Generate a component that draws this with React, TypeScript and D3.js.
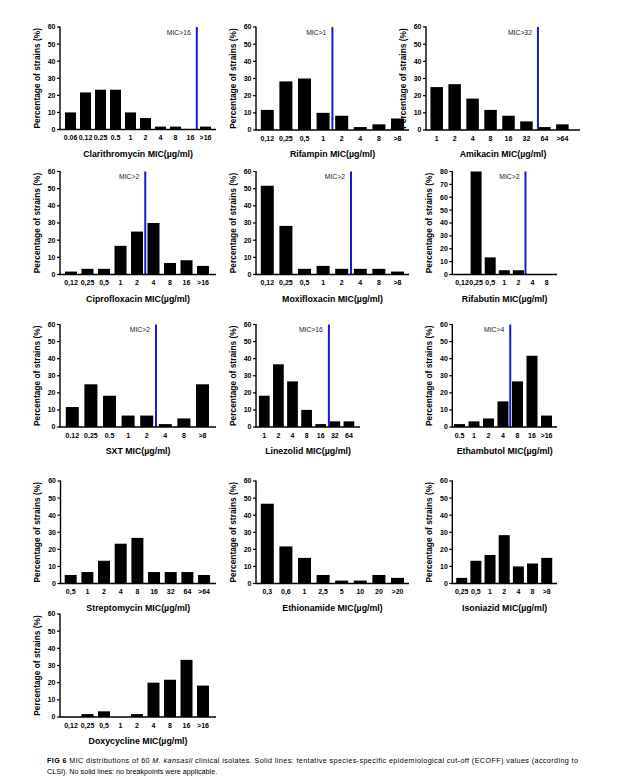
import React from "react";
import * as d3 from "d3";

// ---------- DATA ----------
const clarithromycinCats = ["0.06", "0.12", "0.25", "0.5", "1", "2", "4", "8", "16", ">16"];
const clarithromycinVals = [10, 21.7, 23.3, 23.3, 10, 6.7, 1.7, 1.7, 0, 1.7];

const rifampinCats = ["0,12", "0,25", "0,5", "1", "2", "4", "8", ">8"];
const rifampinVals = [11.7, 28.3, 30, 10, 8.3, 1.7, 3.3, 6.7];

const amikacinCats = ["1", "2", "4", "8", "16", "32", "64", ">64"];
const amikacinVals = [25, 26.7, 18.3, 11.7, 8.3, 5, 1.7, 3.3];

const ciprofloxacinCats = ["0,12", "0,25", "0,5", "1", "2", "4", "8", "16", ">16"];
const ciprofloxacinVals = [1.7, 3.3, 3.3, 16.7, 25, 30, 6.7, 8.3, 5];

const moxifloxacinCats = ["0,12", "0,25", "0,5", "1", "2", "4", "8", ">8"];
const moxifloxacinVals = [51.7, 28.3, 3.3, 5, 3.3, 3.3, 3.3, 1.7];

const rifabutinCats = ["0,12", "0,25", "0,5", "1", "2", "4", "8"];
const rifabutinVals = [0, 80, 13.3, 3.3, 3.3, 0, 0];

const sxtCats = ["0.12", "0.25", "0.5", "1", "2", "4", "8", ">8"];
const sxtVals = [11.7, 25, 18.3, 6.7, 6.7, 1.7, 5, 25];

const linezolidCats = ["1", "2", "4", "8", "16", "32", "64"];
const linezolidVals = [18.3, 36.7, 26.7, 10, 1.7, 3.3, 3.3];

const ethambutolCats = ["0.5", "1", "2", "4", "8", "16", ">16"];
const ethambutolVals = [1.7, 3.3, 5, 15, 26.7, 41.7, 6.7];

const streptomycinCats = ["0,5", "1", "2", "4", "8", "16", "32", "64", ">64"];
const streptomycinVals = [5, 6.7, 13.3, 23.3, 26.7, 6.7, 6.7, 6.7, 5];

const ethionamideCats = ["0,3", "0,6", "1", "2,5", "5", "10", "20", ">20"];
const ethionamideVals = [46.7, 21.7, 15, 5, 1.7, 1.7, 5, 3.3];

const isoniazidCats = ["0,25", "0,5", "1", "2", "4", "8", ">8"];
const isoniazidVals = [3.3, 13.3, 16.7, 28.3, 10, 11.7, 15];

const doxycyclineCats = ["0,12", "0,25", "0,5", "1", "2", "4", "8", "16", ">16"];
const doxycyclineVals = [0, 1.7, 3.3, 0, 1.7, 20, 21.7, 33.3, 18.3];

// drug name, categories, values, y max, breakpoint label, index of category before cut-off line
const panels = [
  { name: "Clarithromycin", cats: clarithromycinCats, vals: clarithromycinVals, yMax: 60, bp: "MIC>16", bpAfter: 8 },
  { name: "Rifampin", cats: rifampinCats, vals: rifampinVals, yMax: 60, bp: "MIC>1", bpAfter: 3 },
  { name: "Amikacin", cats: amikacinCats, vals: amikacinVals, yMax: 60, bp: "MIC>32", bpAfter: 5 },
  { name: "Ciprofloxacin", cats: ciprofloxacinCats, vals: ciprofloxacinVals, yMax: 60, bp: "MIC>2", bpAfter: 4 },
  { name: "Moxifloxacin", cats: moxifloxacinCats, vals: moxifloxacinVals, yMax: 60, bp: "MIC>2", bpAfter: 4 },
  { name: "Rifabutin", cats: rifabutinCats, vals: rifabutinVals, yMax: 80, bp: "MIC>2", bpAfter: 4 },
  { name: "SXT", cats: sxtCats, vals: sxtVals, yMax: 60, bp: "MIC>2", bpAfter: 4 },
  { name: "Linezolid", cats: linezolidCats, vals: linezolidVals, yMax: 60, bp: "MIC>16", bpAfter: 4 },
  { name: "Ethambutol", cats: ethambutolCats, vals: ethambutolVals, yMax: 60, bp: "MIC>4", bpAfter: 3 },
  { name: "Streptomycin", cats: streptomycinCats, vals: streptomycinVals, yMax: 60, bp: null, bpAfter: -1 },
  { name: "Ethionamide", cats: ethionamideCats, vals: ethionamideVals, yMax: 60, bp: null, bpAfter: -1 },
  { name: "Isoniazid", cats: isoniazidCats, vals: isoniazidVals, yMax: 60, bp: null, bpAfter: -1 },
  { name: "Doxycycline", cats: doxycyclineCats, vals: doxycyclineVals, yMax: 60, bp: null, bpAfter: -1 },
];

// ---------- LAYOUT ----------
// left, top, bottom, right of axes; first category centre, step, bar width, cut-off line fraction
const layout = [
  { l: 60, t: 27, b: 129.5, r: 216, first: 70.5, step: 15.0, bw: 11, f: 0.42 },
  { l: 256, t: 27, b: 130, r: 409, first: 267.3, step: 18.6, bw: 13, f: 0.5 },
  { l: 426, t: 27, b: 130, r: 580, first: 436.7, step: 17.95, bw: 12.5, f: 0.64 },
  { l: 60, t: 171.5, b: 274.5, r: 216, first: 71, step: 16.5, bw: 12, f: 0.5 },
  { l: 256, t: 171.5, b: 274.5, r: 409, first: 267.3, step: 18.6, bw: 13, f: 0.5 },
  { l: 452.3, t: 171.5, b: 274.5, r: 557, first: 462, step: 14.1, bw: 11, f: 0.5 },
  { l: 60, t: 324.5, b: 427, r: 216, first: 72.3, step: 18.6, bw: 13, f: 0.5 },
  { l: 256, t: 324.5, b: 427, r: 360, first: 264.3, step: 14.1, bw: 10.7, f: 0.58 },
  { l: 452.3, t: 324.5, b: 427, r: 557, first: 459.5, step: 14.5, bw: 11, f: 0.5 },
  { l: 60.5, t: 481, b: 583.5, r: 216, first: 70.7, step: 16.67, bw: 12, f: 0.5 },
  { l: 256, t: 481, b: 583.5, r: 409, first: 267.3, step: 18.6, bw: 13, f: 0.5 },
  { l: 452.3, t: 481, b: 583.5, r: 557, first: 461.7, step: 14.17, bw: 11, f: 0.5 },
  { l: 60, t: 614, b: 717, r: 216, first: 71, step: 16.5, bw: 12, f: 0.5 },
];

const FONT = "'Liberation Sans', Arial, sans-serif";
const BLUE = "#1a1acc";

function Panel({ p, g }: { p: (typeof panels)[number]; g: (typeof layout)[number] }) {
  const n = p.cats.length;
  const x = d3.scalePoint<string>().domain(p.cats).range([g.first, g.first + g.step * (n - 1)]);
  const y = d3.scaleLinear().domain([0, p.yMax]).range([g.b, g.t]);
  const ticks = d3.range(0, p.yMax + 1, 10);
  const midY = (g.t + g.b) / 2;
  const lineX = p.bpAfter >= 0 ? (x(p.cats[p.bpAfter]) as number) + g.f * g.step : 0;
  return (
    <g>
      {p.vals.map((v, i) =>
        v > 0 ? (
          <rect
            key={i}
            x={(x(p.cats[i]) as number) - g.bw / 2}
            y={y(v)}
            width={g.bw}
            height={g.b - y(v)}
            fill="#000"
          />
        ) : null
      )}
      {p.bp && (
        <g>
          <line x1={lineX} x2={lineX} y1={g.t} y2={g.b} stroke={BLUE} strokeWidth={2} />
          <text x={lineX - 6} y={g.t + 7.5} textAnchor="end" fontSize={6.8} fontFamily={FONT} fill="#222">
            {p.bp}
          </text>
        </g>
      )}
      <line x1={g.l} x2={g.l} y1={g.t - 0.5} y2={g.b} stroke="#000" strokeWidth={1.4} />
      <line x1={g.l - 0.7} x2={g.r} y1={g.b} y2={g.b} stroke="#000" strokeWidth={1.4} />
      {ticks.map((t) => (
        <g key={t}>
          <line x1={g.l - 3} x2={g.l} y1={y(t)} y2={y(t)} stroke="#000" strokeWidth={1.2} />
          <text
            x={g.l - 4.5}
            y={y(t)}
            dy="0.35em"
            textAnchor="end"
            fontSize={7}
            fontWeight="bold"
            fontFamily={FONT}
          >
            {t}
          </text>
        </g>
      ))}
      {p.cats.map((c) => (
        <text
          key={c}
          x={x(c) as number}
          y={g.b + 10.5}
          textAnchor="middle"
          fontSize={7}
          fontWeight="bold"
          fontFamily={FONT}
        >
          {c}
        </text>
      ))}
      <text
        x={(g.l + g.r) / 2}
        y={g.b + 27}
        textAnchor="middle"
        fontSize={8.8}
        fontWeight="bold"
        fontFamily={FONT}
      >
        {p.name} MIC(µg/ml)
      </text>
      <text
        transform={`translate(${g.l - 23},${midY}) rotate(-90)`}
        textAnchor="middle"
        dy="0.35em"
        fontSize={8.4}
        fontWeight="bold"
        fontFamily={FONT}
      >
        Percentage of strains (%)
      </text>
    </g>
  );
}

export default function App() {
  return (
    <div style={{ position: "absolute", left: 0, top: 0, background: "#fff" }}>
      <svg width={620} height={784} style={{ display: "block" }}>
        <rect width={620} height={784} fill="#fff" />
        {panels.map((p, i) => (
          <Panel key={p.name} p={p} g={layout[i]} />
        ))}
        <text x={47} y={763} fontSize={7.2} fontFamily={FONT} textLength={531} lengthAdjust="spacing">
          <tspan fontWeight="bold">FIG 6</tspan>
          <tspan> MIC distributions of 60 </tspan>
          <tspan fontStyle="italic">M. kansasii</tspan>
          <tspan> clinical isolates. Solid lines: tentative species-specific epidemiological cut-off (ECOFF) values (according to</tspan>
        </text>
        <text x={47} y={774} fontSize={7.2} fontFamily={FONT}>
          CLSI). No solid lines: no breakpoints were applicable.
        </text>
      </svg>
    </div>
  );
}
